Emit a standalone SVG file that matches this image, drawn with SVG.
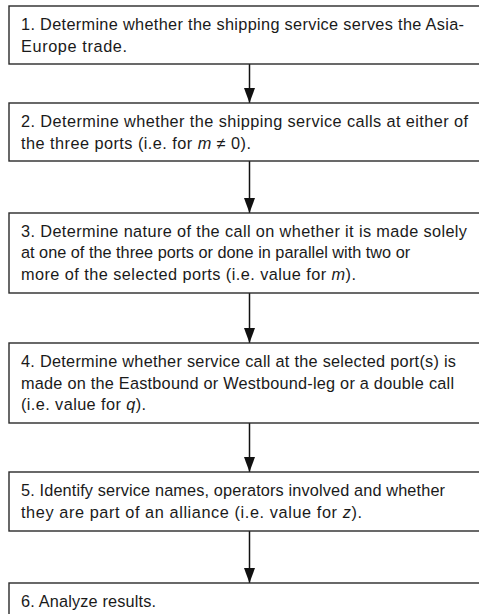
<svg xmlns="http://www.w3.org/2000/svg" width="479" height="614" viewBox="0 0 479 614">
<style>
.box{fill:#fff;stroke:#2a2a2a;stroke-width:1.4}
.t{font-family:"Liberation Sans",Arial,sans-serif;font-size:16.3px;fill:#1a1a1a}
.i{font-style:italic}
.c{stroke:#111;stroke-width:1.5;fill:none}
</style>
<defs>
<marker id="ah" markerUnits="userSpaceOnUse" markerWidth="16" markerHeight="12" refX="15" refY="6" orient="auto">
<path d="M0,0.5 L15,6 L0,11.5 z" fill="#111"/>
</marker>
</defs>
<rect width="479" height="614" fill="#fff"/>
<g id="connectors">
<line class="c" x1="249.5" y1="64" x2="249.5" y2="103" marker-end="url(#ah)"/>
<line class="c" x1="249.5" y1="161" x2="249.5" y2="213" marker-end="url(#ah)"/>
<line class="c" x1="249.5" y1="293" x2="249.5" y2="343" marker-end="url(#ah)"/>
<line class="c" x1="249.5" y1="423" x2="249.5" y2="472" marker-end="url(#ah)"/>
<line class="c" x1="249.5" y1="531" x2="249.5" y2="583" marker-end="url(#ah)"/>
</g>
<g id="step1">
<rect class="box" x="9" y="6" width="480" height="58"/>
<text class="t" x="21" y="30" textLength="443" lengthAdjust="spacing">1. Determine whether the shipping service serves the Asia-</text>
<text class="t" x="21" y="52" textLength="106" lengthAdjust="spacing">Europe trade.</text>
</g>
<g id="step2">
<rect class="box" x="9" y="103" width="480" height="58"/>
<text class="t" x="21" y="127" textLength="447" lengthAdjust="spacing">2. Determine whether the shipping service calls at either of</text>
<text class="t" x="21" y="149" textLength="230" lengthAdjust="spacing">the three ports (i.e. for <tspan class="i">m</tspan> ≠ 0).</text>
</g>
<g id="step3">
<rect class="box" x="9" y="213" width="480" height="80"/>
<text class="t" x="21" y="237" textLength="446" lengthAdjust="spacing">3. Determine nature of the call on whether it is made solely</text>
<text class="t" x="21" y="258">at one of the three ports or done in parallel with two or</text>
<text class="t" x="21" y="280" textLength="335" lengthAdjust="spacing">more of the selected ports (i.e. value for <tspan class="i">m</tspan>).</text>
</g>
<g id="step4">
<rect class="box" x="9" y="343" width="480" height="80"/>
<text class="t" x="21" y="367" textLength="435" lengthAdjust="spacing">4. Determine whether service call at the selected port(s) is</text>
<text class="t" x="21" y="389" textLength="433" lengthAdjust="spacing">made on the Eastbound or Westbound-leg or a double call</text>
<text class="t" x="21" y="410" textLength="125" lengthAdjust="spacing">(i.e. value for <tspan class="i">q</tspan>).</text>
</g>
<g id="step5">
<rect class="box" x="9" y="472" width="480" height="59"/>
<text class="t" x="21" y="496" textLength="424" lengthAdjust="spacing">5. Identify service names, operators involved and whether</text>
<text class="t" x="21" y="518" textLength="341" lengthAdjust="spacing">they are part of an alliance (i.e. value for <tspan class="i">z</tspan>).</text>
</g>
<g id="step6">
<rect class="box" x="9" y="583" width="480" height="50"/>
<text class="t" x="21" y="607" textLength="135" lengthAdjust="spacing">6. Analyze results.</text>
</g>
</svg>
